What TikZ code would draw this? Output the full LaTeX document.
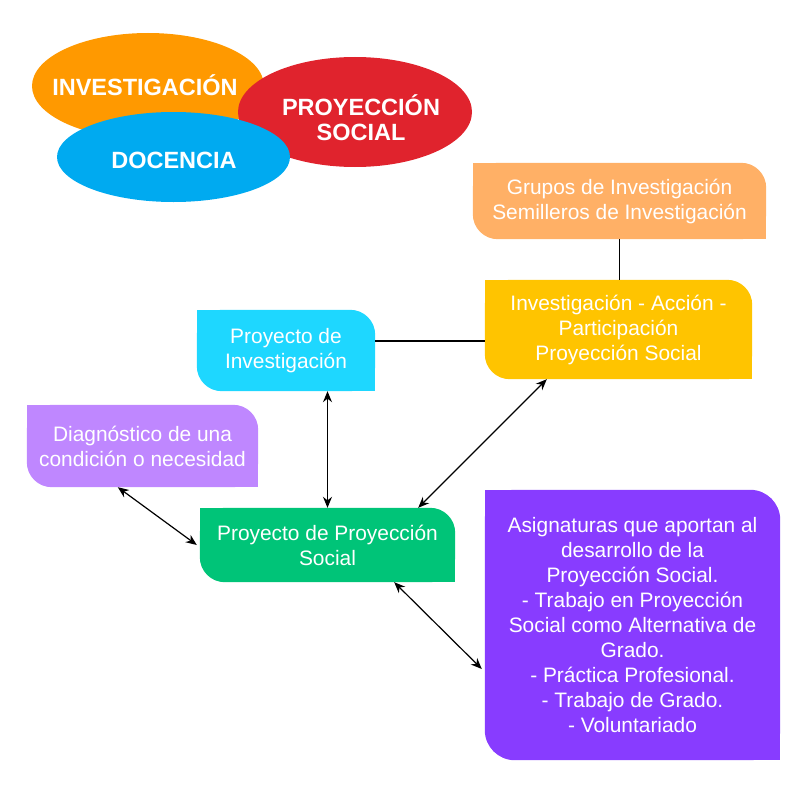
\documentclass[tikz,border=0pt]{standalone}
\usepackage{fontspec}
\setmainfont{Liberation Sans}
\usetikzlibrary{arrows.meta, shapes.geometric, backgrounds}
\definecolor{investorange}{HTML}{FF9900}
\definecolor{socialred}{HTML}{E0232D}
\definecolor{docblue}{HTML}{00AAF0}
\definecolor{gruposcol}{HTML}{FFB066}
\definecolor{accioncol}{HTML}{FFC400}
\definecolor{proyinvcol}{HTML}{1ED7FF}
\definecolor{diagcol}{HTML}{BF87FF}
\definecolor{ppscol}{HTML}{00C478}
\definecolor{asigcol}{HTML}{883CFF}
\tikzset{
  every node/.style={font=\fontsize{20.9}{25}\selectfont},
  leaf/.style={
    rectangle, text=white,
    align=center, inner sep=0pt
  },
  blob/.style={ellipse, inner sep=0pt},
  blobtext/.style={
    text=white, align=center, inner sep=0pt,
    font=\fontsize{23.5}{25}\selectfont\bfseries
  },
  link/.style={line width=1.2pt},
  arr/.style={{Stealth[length=11pt,width=9pt]}-{Stealth[length=11pt,width=9pt]}, line width=1.2pt},
}
% leaf box behind a node: round top right and bottom left, square the other two
\newcommand\leafback[3]{%
  \fill[#2, rounded corners=#3] (#1.north west) rectangle (#1.south east);
  \fill[#2] (#1.north west) rectangle ([xshift=#3+1pt,yshift=-#3-1pt]#1.north west);
  \fill[#2] (#1.south east) rectangle ([xshift=-#3-1pt,yshift=#3+1pt]#1.south east);
}

\begin{document}
\begin{tikzpicture}[x=1pt, y=-1pt]
    \useasboundingbox (0,0) rectangle (800,800);

    % Three overlapping ellipses
    \node[blob, fill=investorange, minimum width=232pt, minimum height=106pt] (invest) at (148,86) {};
    \node[blobtext] (investtext) at (145,85) {INVESTIGACIÓN};
    \node[blob, fill=socialred, minimum width=234pt, minimum height=110pt] (social) at (355,112) {};
    \node[blobtext] (socialtext) at (361,118) {PROYECCIÓN\\SOCIAL};
    \node[blob, fill=docblue, minimum width=233pt, minimum height=90pt] (docencia) at (173.5,157) {};
    \node[blobtext] (docenciatext) at (174,160.5) {DOCENCIA};

    % Boxes
    \node[leaf, minimum width=293pt, minimum height=76pt] (grupos) at (619.5,201)
      {Grupos de Investigación\\Semilleros de Investigación};
    \node[leaf, minimum width=267pt, minimum height=99pt] (iaccion) at (618.5,329.5)
      {Investigación - Acción -\\Participación\\Proyección Social};
    \node[leaf, minimum width=178pt, minimum height=81pt] (pinv) at (286,350.5)
      {Proyecto de\\Investigación};
    \node[leaf, minimum width=231pt, minimum height=82pt] (diag) at (142.5,446)
      {Diagnóstico de una\\condición o necesidad};
    \node[leaf, minimum width=255pt, minimum height=74pt] (pps) at (327.5,545)
      {Proyecto de Proyección\\Social};
    \node[leaf, minimum width=295pt, minimum height=270pt] (asig) at (632.5,625)
      {Asignaturas que aportan al\\desarrollo de la\\Proyección Social.\\- Trabajo en Proyección\\Social como Alternativa de\\Grado.\\- Práctica Profesional.\\- Trabajo de Grado.\\- Voluntariado};

    \begin{scope}[on background layer]
      \leafback{grupos}{gruposcol}{25pt}
      \leafback{iaccion}{accioncol}{25pt}
      \leafback{pinv}{proyinvcol}{25pt}
      \leafback{diag}{diagcol}{25pt}
      \leafback{pps}{ppscol}{25pt}
      \leafback{asig}{asigcol}{30pt}
    \end{scope}

    % Plain links
    \draw[link] (grupos.south) -- (grupos.south |- iaccion.north);
    \draw[link] ([yshift=9.5pt]pinv.east) coordinate (pinvlink) -- (pinvlink -| iaccion.west);

    % Two-way arrows
    \draw[arr] (pps.north |- pinv.south) -- (pps.north);
    \draw[arr] ([xshift=62pt]iaccion.south west) -- ([xshift=-37pt]pps.north east);
    \draw[arr] ([xshift=91pt]diag.south west) -- ([xshift=-3pt]pps.west);
    \draw[arr] ([xshift=-61pt]pps.south east) -- ([xshift=-3pt,yshift=-44pt]asig.west);

\end{tikzpicture}
\end{document}
